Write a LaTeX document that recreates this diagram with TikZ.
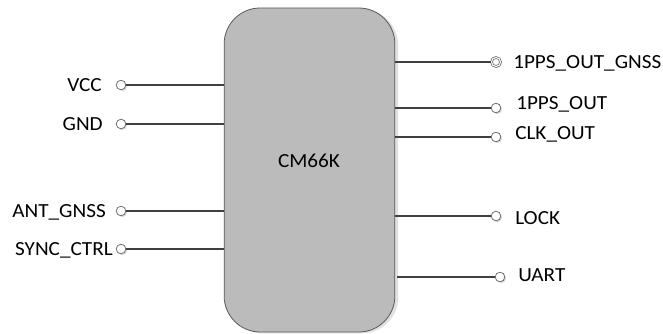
\documentclass[tikz,border=0pt]{standalone}
\usepackage{fontspec}
\setmainfont{Carlito}[FakeStretch=1.06]
\usepackage{tikz}
\usetikzlibrary{positioning,shadows}

\definecolor{chipgray}{RGB}{187,187,187}
\definecolor{wiregray}{RGB}{64,64,64}

\begin{document}
\begin{tikzpicture}[
    x=0.75pt, y=-0.75pt,
    every node/.style={font=\fontsize{15}{17}\selectfont},
    chip/.style={
        draw=black!65,
        line width=0.6pt,
        fill=chipgray,
        rounded corners=27pt,
        minimum width=128pt,
        minimum height=243pt,
        drop shadow={shadow xshift=2.5pt, shadow yshift=-1pt, fill=black!12, opacity=1}
    },
    pin/.style={
        circle,
        draw=black!60,
        fill=white,
        line width=0.55pt,
        minimum size=7.2pt,
        inner sep=0pt,
        drop shadow={shadow xshift=1pt, shadow yshift=-1pt, fill=black!15, opacity=1}
    },
    pindouble/.style={
        pin,
        double=white,
        double distance=0.8pt,
        minimum size=6.8pt
    },
    wire/.style={
        draw=wiregray,
        line width=1.6pt
    },
    leftlabel/.style={inner sep=0pt, anchor=base east},
    rightlabel/.style={inner sep=0pt, anchor=base west}
]

\useasboundingbox (0,0) rectangle (663,334);

% ==========================================================
% CHIP
% ==========================================================

\node[chip] (cm66k) at (309.5,170) {};
\node (chipname) at (309,161) {CM66K};

% ==========================================================
% LEFT PINS
% ==========================================================

\node[pin] (vccpin) at (121,85) {};
\node[leftlabel] (vcclabel) at (102,91.5) {VCC};

\node[pin] (gndpin) at (121,124) {};
\node[leftlabel] (gndlabel) at (103,130.5) {GND};

\node[pin] (antpin) at (121,211) {};
\node[leftlabel] (antlabel) at (106,218) {ANT\_GNSS};

\node[pin] (syncpin) at (121,249) {};
\node[leftlabel] (synclabel) at (113,256) {SYNC\_CTRL};

% ==========================================================
% RIGHT PINS
% ==========================================================

\node[pindouble] (ppsgnsspin) at (496,62) {};
\node[rightlabel] (ppsgnsslabel) at (513,69) {1PPS\_OUT\_GNSS};

\node[pin] (ppspin) at (496,108) {};
\node[rightlabel] (ppslabel) at (516,109.5) {1PPS\_OUT};

\node[pin] (clkpin) at (496,137) {};
\node[rightlabel] (clklabel) at (515,139.5) {CLK\_OUT};

\node[pin] (lockpin) at (496,216) {};
\node[rightlabel] (locklabel) at (515,225) {LOCK};

\node[pin] (uartpin) at (500,277) {};
\node[rightlabel] (uartlabel) at (518,281.5) {UART};

% ==========================================================
% WIRES
% ==========================================================

\draw[wire] (vccpin) -- (vccpin -| cm66k.west);
\draw[wire] (gndpin) -- (gndpin -| cm66k.west);
\draw[wire] (antpin) -- (antpin -| cm66k.west);
\draw[wire] (syncpin) -- (syncpin -| cm66k.west);

\draw[wire] (ppsgnsspin) -- (ppsgnsspin -| cm66k.east);
\draw[wire] (ppspin) -- (ppspin -| cm66k.east);
\draw[wire] (clkpin) -- (clkpin -| cm66k.east);
\draw[wire] (lockpin) -- (lockpin -| cm66k.east);
\draw[wire] (uartpin) -- ([xshift=1.5pt]uartpin -| cm66k.east);

\end{tikzpicture}
\end{document}
